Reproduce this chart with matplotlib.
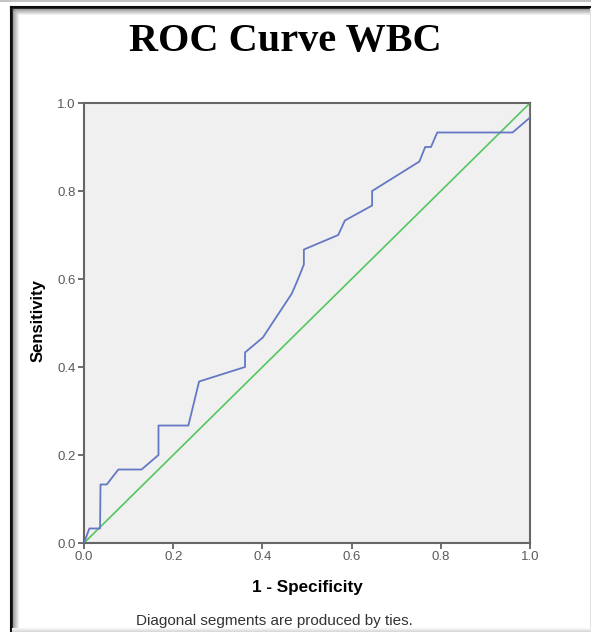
import matplotlib
matplotlib.use("Agg")
import matplotlib.pyplot as plt
from matplotlib.lines import Line2D

# ROC curve points
fpr = [0, 0.012, 0.036, 0.037, 0.051, 0.077, 0.129, 0.167, 0.167, 0.234,
       0.258, 0.361, 0.361, 0.401, 0.466, 0.480, 0.493, 0.493, 0.570, 0.585,
       0.646, 0.646, 0.752, 0.765, 0.778, 0.792, 0.961, 1.0, 1.0]
tpr = [0, 0.033, 0.033, 0.133, 0.133, 0.167, 0.167, 0.2, 0.267, 0.267,
       0.367, 0.4, 0.433, 0.467, 0.567, 0.6, 0.633, 0.667, 0.7, 0.733,
       0.767, 0.8, 0.867, 0.9, 0.9, 0.933, 0.933, 0.967, 1.0]
ref_line = [0, 1]
ticks = [0.0, 0.2, 0.4, 0.6, 0.8, 1.0]
tick_labels = ["0.0", "0.2", "0.4", "0.6", "0.8", "1.0"]

W, H = 591, 632
fig = plt.figure(figsize=(W / 100, H / 100), dpi=100)
fig.patch.set_facecolor("white")


def px(x, y):
    return x / W, 1 - y / H


# outer frame with a soft inner shadow
fig.add_artist(Line2D([0, 1], [1 - 1 / H] * 2, color="#b8b8b8", lw=1.2))
for i in range(9):
    g = min(1.0, 0.05 + i * 0.12)
    c = (g, g, g)
    lw = 1.5 if i == 0 else 0.75
    x0, y0 = px(11 + i, 7 + i)
    fig.add_artist(Line2D([x0, 1], [y0, y0], color=c, lw=lw, alpha=1 if i < 2 else 0.5))
    fig.add_artist(Line2D([x0, x0], [y0, 0], color=c, lw=lw, alpha=1 if i < 2 else 0.5))
fig.add_artist(Line2D([589.5 / W] * 2, [0, px(0, 8)[1]], color="#e2e2e2", lw=0.8))
for i in range(4):
    g = 0.97 - i * 0.04
    yy = px(0, 628 + i)[1]
    fig.add_artist(Line2D([px(12, 0)[0], 1], [yy, yy], color=(g, g, g), lw=0.8))

ax = fig.add_axes([84 / W, 1 - 543 / H, 446 / W, 440 / H])
ax.set_facecolor("#f0f0f0")
ax.plot(ref_line, ref_line, color="#55c660", lw=1.2, zorder=2)
ax.plot(fpr, tpr, color="#6478c4", lw=1.3, zorder=3)
ax.set_xlim(0, 1)
ax.set_ylim(0, 1)
ax.set_xticks(ticks)
ax.set_yticks(ticks)
ax.set_xticklabels(tick_labels, fontsize=9.5, color="#5a5a5a", family="Liberation Sans")
ax.set_yticklabels(tick_labels, fontsize=9.5, color="#5a5a5a", family="Liberation Sans")
ax.tick_params(direction="out", length=4, width=1.2, color="#555555", pad=2)
for s in ax.spines.values():
    s.set_color("#666666")
    s.set_linewidth(1.5)

ax.set_xlabel("1 - Specificity", fontsize=12.3, fontweight="bold",
              family="Liberation Sans", labelpad=12)
ax.set_ylabel("Sensitivity", fontsize=12, fontweight="bold",
              family="Liberation Sans")
ax.yaxis.set_label_coords(-0.087, 0.505)

fig.text(285 / W, 1 - 42 / H, "ROC Curve WBC", ha="center", va="center",
         fontsize=29, fontweight="bold", family="Liberation Serif")
fig.text(274 / W, 1 - 621 / H, "Diagonal segments are produced by ties.",
         ha="center", va="center", fontsize=11, color="#333333",
         family="Liberation Sans")

fig.savefig("out.png", dpi=100)
